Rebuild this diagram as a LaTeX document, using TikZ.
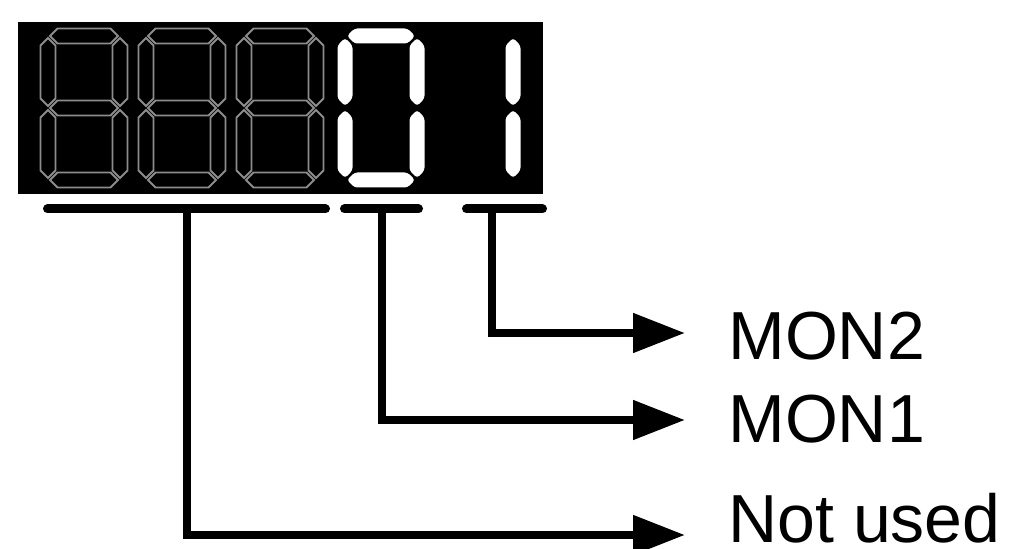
\documentclass[tikz,border=0pt]{standalone}
\usepackage{fontspec}
\setmainfont{Liberation Sans}
\usetikzlibrary{arrows.meta, calc}

% one segment of a seven-segment digit, centred at (#2,#3)
\newcommand{\hseg}[3]{\path[#1] ($(#2,#3)+(-34,0)$) -- ++(7.5,7.5) -- ++(53,0) -- ++(7.5,-7.5) -- ++(-7.5,-7.5) -- ++(-53,0) -- cycle;}
\newcommand{\vseg}[3]{\path[#1] ($(#2,#3)+(0,-34)$) -- ++(7.5,7.5) -- ++(0,53) -- ++(-7.5,7.5) -- ++(-7.5,-7.5) -- ++(0,-53) -- cycle;}
% unlit digit, left edge at #1
\newcommand{\ghostdigit}[1]{%
  \hseg{segoff}{#1+44}{36}\hseg{segoff}{#1+44}{108}\hseg{segoff}{#1+44}{180}%
  \vseg{segoff}{#1+8}{72}\vseg{segoff}{#1+80}{72}%
  \vseg{segoff}{#1+8}{144}\vseg{segoff}{#1+80}{144}}

\begin{document}
\begin{tikzpicture}[
    x=0.5pt, y=-0.5pt,
    segoff/.style={draw=black!45, line width=0.9pt},
    segon/.style={fill=white, rounded corners=1.5pt},
    bar/.style={line width=4.5pt, line cap=round},
    arrow/.style={line width=4pt, -{Triangle[length=26pt, width=19pt]}},
    outtext/.style={anchor=base west, inner sep=0pt, font=\fontsize{34}{40}\selectfont}
]
\useasboundingbox (0,0) rectangle (1010,549);

% Display
\fill (18,22) rectangle (543,194);
\foreach \dx in {40,138,236} {\ghostdigit{\dx}}
% digit 0
\hseg{segon}{337+44}{36}
\hseg{segon}{337+44}{180}
\vseg{segon}{337+8}{72}
\vseg{segon}{337+80}{72}
\vseg{segon}{337+8}{144}
\vseg{segon}{337+80}{144}
% digit 1
\vseg{segon}{433+80}{72}
\vseg{segon}{433+80}{144}

% Bars
\draw[bar] (47.5,209) -- (325.5,209);
\draw[bar] (344.5,209) -- (418.5,209);
\draw[bar] (466.5,209) -- (542.5,209);
\coordinate (tapA) at (187,209);
\coordinate (tapB) at (382,209);
\coordinate (tapC) at (492,209);

% Labels
\node (mon2) [outtext] at (728,360) {MON2};
\node (mon1) [outtext] at (728,443) {MON1};
\node (unused) [outtext] at (728,542) {Not used};
\coordinate (endC) at (685,333);
\coordinate (endB) at (685,420);
\coordinate (endA) at (685,535);

% Links
\draw[arrow] (tapC) |- (endC);
\draw[arrow] (tapB) |- (endB);
\draw[arrow] (tapA) |- (endA);

\end{tikzpicture}
\end{document}
